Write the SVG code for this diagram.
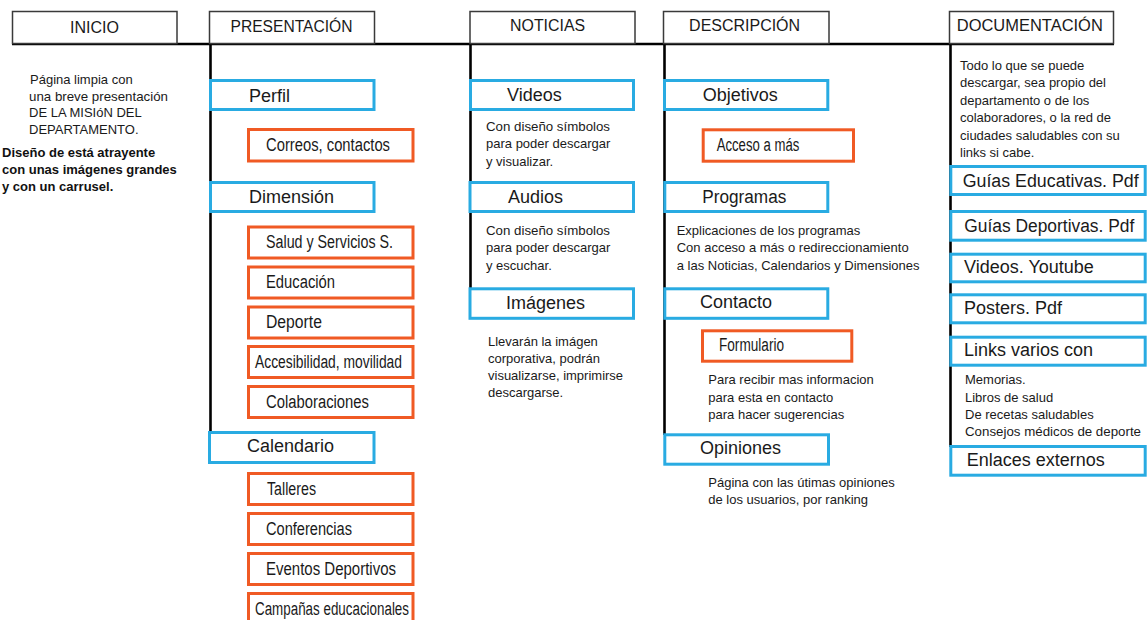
<svg xmlns="http://www.w3.org/2000/svg" width="1148" height="620" viewBox="0 0 1148 620">
<style>
.hd{fill:#fff;stroke:#3a3a3a;stroke-width:1.5}
.ht{font-family:"Liberation Sans",Arial,sans-serif;font-size:16px;fill:#1a1a1a;text-anchor:middle}
.bl{fill:#fff;stroke:#29abe2;stroke-width:3}
.or{fill:#fff;stroke:#f05a24;stroke-width:3}
.bt{font-family:"Liberation Sans",Arial,sans-serif;font-size:18px;fill:#1a1a1a}
.ot{font-family:"Liberation Sans Narrow","Liberation Sans",Arial,sans-serif;font-size:18px;fill:#1a1a1a}
.st{font-family:"Liberation Sans",Arial,sans-serif;font-size:13px;fill:#1a1a1a}
.sm{font-family:"Liberation Sans",Arial,sans-serif;font-size:13px;fill:#1a1a1a}
.sb{font-family:"Liberation Sans",Arial,sans-serif;font-size:13px;font-weight:bold;fill:#111}
.ln{stroke:#000;stroke-width:2.6;fill:none}
</style>
<rect width="1148" height="620" fill="#fff"/>
<g id="connectors">
<line class="ln" x1="12" y1="44" x2="1114" y2="44"/>
<line class="ln" x1="210.5" y1="44" x2="210.5" y2="433"/>
<line class="ln" x1="470.5" y1="44" x2="470.5" y2="289"/>
<line class="ln" x1="664.5" y1="44" x2="664.5" y2="435"/>
<line class="ln" x1="950.5" y1="44" x2="950.5" y2="447"/>
</g>
<g id="h-inicio"><rect class="hd" x="12.5" y="11.5" width="164.5" height="32"/><text class="ht" x="94.5" y="32.5" textLength="49" lengthAdjust="spacingAndGlyphs">INICIO</text></g>
<g id="h-presentacion"><rect class="hd" x="209.5" y="11.5" width="165" height="32"/><text class="ht" x="291.5" y="32.3" textLength="122" lengthAdjust="spacingAndGlyphs">PRESENTACIÓN</text></g>
<g id="h-noticias"><rect class="hd" x="470" y="11.5" width="165" height="32"/><text class="ht" x="547.6" y="30.5" textLength="75" lengthAdjust="spacingAndGlyphs">NOTICIAS</text></g>
<g id="h-descripcion"><rect class="hd" x="663.5" y="11.5" width="165.5" height="32"/><text class="ht" x="744.6" y="30.5" textLength="111" lengthAdjust="spacingAndGlyphs">DESCRIPCIÓN</text></g>
<g id="h-documentacion"><rect class="hd" x="949.5" y="11.5" width="164" height="32"/><text class="ht" x="1029.8" y="30.5" textLength="146" lengthAdjust="spacingAndGlyphs">DOCUMENTACIÓN</text></g>

<g id="inicio-text">
<text class="st" x="30" y="84">Página limpia con</text>
<text class="st" x="29" y="100.7" textLength="139" lengthAdjust="spacingAndGlyphs">una breve presentación</text>
<text class="st" x="29" y="117.3">DE LA MISIóN DEL</text>
<text class="st" x="29" y="134">DEPARTAMENTO.</text>
<text class="sb" x="2" y="157.3">Diseño de está atrayente</text>
<text class="sb" x="2" y="174">con unas imágenes grandes</text>
<text class="sb" x="2" y="190.7">y con un carrusel.</text>
</g>

<g id="perfil"><rect class="bl" x="210.5" y="80.5" width="163.5" height="29"/><text class="bt" x="249" y="101.5">Perfil</text></g>
<g id="correos"><rect class="or" x="248.5" y="129.5" width="164.5" height="31.5"/><text class="ot" x="266" y="151" textLength="124" lengthAdjust="spacingAndGlyphs">Correos, contactos</text></g>
<g id="dimension"><rect class="bl" x="210.5" y="182.5" width="163.5" height="29"/><text class="bt" x="249" y="203">Dimensión</text></g>
<g id="salud"><rect class="or" x="248.5" y="227" width="164.5" height="31"/><text class="ot" x="266" y="248" textLength="127" lengthAdjust="spacingAndGlyphs">Salud y Servicios S.</text></g>
<g id="educacion"><rect class="or" x="248.5" y="267" width="164.5" height="31"/><text class="ot" x="266" y="288" textLength="69" lengthAdjust="spacingAndGlyphs">Educación</text></g>
<g id="deporte"><rect class="or" x="248.5" y="307" width="164.5" height="31"/><text class="ot" x="266" y="328" textLength="56" lengthAdjust="spacingAndGlyphs">Deporte</text></g>
<g id="accesibilidad"><rect class="or" x="248.5" y="346.5" width="164.5" height="31"/><text class="ot" x="255" y="368" textLength="147" lengthAdjust="spacingAndGlyphs">Accesibilidad, movilidad</text></g>
<g id="colaboraciones"><rect class="or" x="248.5" y="386.5" width="164.5" height="31"/><text class="ot" x="266" y="408" textLength="103" lengthAdjust="spacingAndGlyphs">Colaboraciones</text></g>
<g id="calendario"><rect class="bl" x="209.5" y="432.5" width="164.5" height="30"/><text class="bt" x="247" y="452">Calendario</text></g>
<g id="talleres"><rect class="or" x="248.5" y="473.5" width="164.5" height="31"/><text class="ot" x="267" y="494.5" textLength="49" lengthAdjust="spacingAndGlyphs">Talleres</text></g>
<g id="conferencias"><rect class="or" x="248.5" y="513.5" width="164.5" height="31"/><text class="ot" x="266" y="534.5" textLength="86" lengthAdjust="spacingAndGlyphs">Conferencias</text></g>
<g id="eventos"><rect class="or" x="248.5" y="553.5" width="164.5" height="31"/><text class="ot" x="266" y="575" textLength="130" lengthAdjust="spacingAndGlyphs">Eventos Deportivos</text></g>
<g id="campanas"><rect class="or" x="248.5" y="593.5" width="164.5" height="31"/><text class="ot" x="255" y="615" textLength="154" lengthAdjust="spacingAndGlyphs">Campañas educacionales</text></g>

<g id="videos"><rect class="bl" x="470.5" y="80.5" width="163" height="29"/><text class="bt" x="507" y="101">Videos</text></g>
<g id="videos-desc">
<text class="st" x="486" y="130.5" textLength="124" lengthAdjust="spacingAndGlyphs">Con diseño símbolos</text>
<text class="st" x="486" y="148">para poder descargar</text>
<text class="st" x="486" y="165.5">y visualizar.</text>
</g>
<g id="audios"><rect class="bl" x="470" y="182.5" width="163.5" height="29"/><text class="bt" x="508" y="203">Audios</text></g>
<g id="audios-desc">
<text class="st" x="486" y="235" textLength="124" lengthAdjust="spacingAndGlyphs">Con diseño símbolos</text>
<text class="st" x="486" y="252.3">para poder descargar</text>
<text class="st" x="486" y="269.5">y escuchar.</text>
</g>
<g id="imagenes"><rect class="bl" x="470" y="288.8" width="163.5" height="29.5"/><text class="bt" x="506" y="308.5">Imágenes</text></g>
<g id="imagenes-desc">
<text class="st" x="488" y="345.7">Llevarán la imágen</text>
<text class="st" x="488" y="362.7">corporativa, podrán</text>
<text class="st" x="488" y="380">visualizarse, imprimirse</text>
<text class="st" x="488" y="396.7">descargarse.</text>
</g>

<g id="objetivos"><rect class="bl" x="664.5" y="80.5" width="163.3" height="29"/><text class="bt" x="702.7" y="101">Objetivos</text></g>
<g id="acceso"><rect class="or" x="703.2" y="129.8" width="150.3" height="31.4"/><text class="ot" x="716.7" y="150.7" textLength="82.6" lengthAdjust="spacingAndGlyphs">Acceso a más</text></g>
<g id="programas"><rect class="bl" x="664.8" y="182.5" width="163" height="29"/><text class="bt" x="702.3" y="203" textLength="84" lengthAdjust="spacingAndGlyphs">Programas</text></g>
<g id="programas-desc">
<text class="st" x="676.7" y="235">Explicaciones de los programas</text>
<text class="st" x="676.7" y="252.3">Con acceso a más o redireccionamiento</text>
<text class="st" x="676.7" y="269.5">a las Noticias, Calendarios y Dimensiones</text>
</g>
<g id="contacto"><rect class="bl" x="664.8" y="288.8" width="163" height="29.5"/><text class="bt" x="700" y="308.3">Contacto</text></g>
<g id="formulario"><rect class="or" x="702.5" y="330.8" width="149.3" height="30.4"/><text class="ot" x="719" y="350.7" textLength="65" lengthAdjust="spacingAndGlyphs">Formulario</text></g>
<g id="contacto-desc">
<text class="st" x="708.3" y="384">Para recibir mas informacion</text>
<text class="st" x="708.3" y="401.5">para esta en contacto</text>
<text class="st" x="708.3" y="418.5">para hacer sugerencias</text>
</g>
<g id="opiniones"><rect class="bl" x="664.8" y="434.8" width="163.7" height="29.4"/><text class="bt" x="700" y="454">Opiniones</text></g>
<g id="opiniones-desc">
<text class="st" x="708.3" y="487.3">Página con las útimas opiniones</text>
<text class="st" x="708.3" y="504">de los usuarios, por ranking</text>
</g>

<g id="doc-desc">
<text class="st" x="960" y="70">Todo lo que se puede</text>
<text class="st" x="960" y="87.3">descargar, sea propio del</text>
<text class="st" x="960" y="104.7">departamento o de los</text>
<text class="st" x="960" y="122">colaboradores, o la red de</text>
<text class="st" x="960" y="139.5">ciudades saludables con su</text>
<text class="st" x="960" y="156.7">links si cabe.</text>
</g>
<g id="guias-educativas"><rect class="bl" x="950.8" y="166.5" width="194.4" height="28"/><text class="bt" x="962.7" y="186.7" textLength="176" lengthAdjust="spacingAndGlyphs">Guías Educativas. Pdf</text></g>
<g id="guias-deportivas"><rect class="bl" x="950.8" y="211.5" width="194.4" height="28.7"/><text class="bt" x="964.3" y="231.7" textLength="170" lengthAdjust="spacingAndGlyphs">Guías Deportivas. Pdf</text></g>
<g id="videos-youtube"><rect class="bl" x="950.8" y="254.2" width="194.4" height="27.6"/><text class="bt" x="964" y="272.5">Videos. Youtube</text></g>
<g id="posters"><rect class="bl" x="950.8" y="294.8" width="194.4" height="28"/><text class="bt" x="964" y="314">Posters. Pdf</text></g>
<g id="links"><rect class="bl" x="950.8" y="337.2" width="194.4" height="28"/><text class="bt" x="964" y="355.5">Links varios con</text></g>
<g id="links-desc">
<text class="sm" x="965" y="384">Memorias.</text>
<text class="sm" x="965" y="401.7">Libros de salud</text>
<text class="sm" x="965" y="419">De recetas saludables</text>
<text class="sm" x="965" y="436" textLength="176" lengthAdjust="spacingAndGlyphs">Consejos médicos de deporte</text>
</g>
<g id="enlaces"><rect class="bl" x="950.8" y="446.5" width="194.4" height="28.7"/><text class="bt" x="966.7" y="465.5">Enlaces externos</text></g>
</svg>
